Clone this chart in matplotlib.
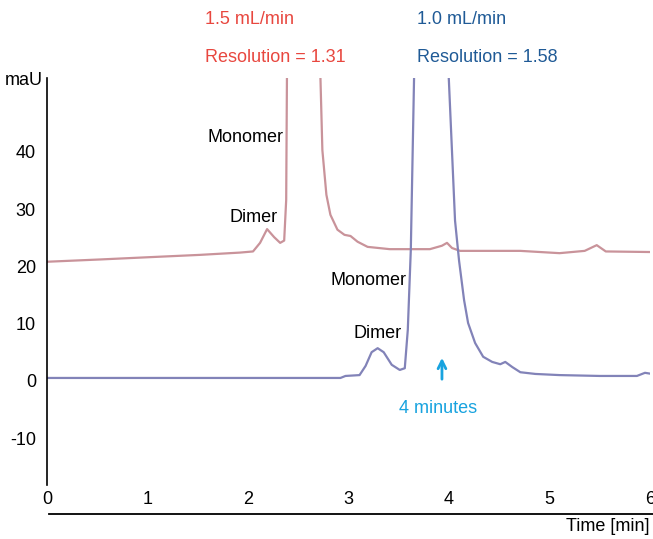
import numpy as np
import matplotlib
matplotlib.use("Agg")
import matplotlib.pyplot as plt

plt.rcParams['font.family'] = ['Liberation Sans', 'DejaVu Sans']
plt.rcParams['axes.unicode_minus'] = False

# chromatogram at 1.5 mL/min (time in min, signal in mAU)
t_fast = [0.0, 0.53, 1.02, 1.52, 1.92, 2.05, 2.12, 2.19, 2.26, 2.32, 2.36, 2.38, 2.39,
          2.71, 2.74, 2.78, 2.82, 2.89, 2.96, 3.02, 3.09, 3.19, 3.41, 3.81, 3.93, 3.98,
          4.03, 4.11, 4.71, 5.10, 5.35, 5.47, 5.56, 6.0]
v_fast = [20.8, 21.2, 21.6, 22.0, 22.4, 22.6, 24.1, 26.5, 25.1, 24.1, 24.5, 31.6, 60.0,
          60.0, 40.3, 32.5, 29.0, 26.4, 25.5, 25.3, 24.3, 23.4, 23.0, 23.0, 23.6, 24.1,
          23.2, 22.7, 22.7, 22.3, 22.7, 23.7, 22.6, 22.5]

# chromatogram at 1.0 mL/min
t_slow = [0.0, 2.92, 2.97, 3.11, 3.17, 3.23, 3.29, 3.35, 3.43, 3.51, 3.56, 3.59, 3.62,
          3.66, 3.98, 4.06, 4.10, 4.15, 4.19, 4.26, 4.34, 4.43, 4.51, 4.56, 4.63, 4.71,
          4.86, 5.10, 5.50, 5.87, 5.95, 6.02]
v_slow = [0.5, 0.5, 0.85, 1.0, 2.6, 5.0, 5.7, 5.0, 2.8, 1.9, 2.2, 8.9, 22.9,
          60.0, 60.0, 28.0, 21.0, 14.1, 10.1, 6.6, 4.2, 3.3, 2.9, 3.3, 2.4, 1.5,
          1.2, 1.0, 0.85, 0.85, 1.4, 1.2]

xticks = [0, 1, 2, 3, 4, 5, 6]
yticks = [-10, 0, 10, 20, 30, 40]

red_txt = '#e8473f'
blue_txt = '#1f5a96'
cyan_txt = '#18a3df'
fs = 13

fig = plt.figure(figsize=(6.53, 5.39), dpi=100)
ax = fig.add_axes([47/653, 54/539, 603/653, 407/539])

ax.plot(t_fast, v_fast, color='#c9939a', lw=1.6)
ax.plot(t_slow, v_slow, color='#8283b8', lw=1.6)

ax.set_xlim(0, 6)
ax.set_ylim(-18.2, 52.9)
ax.set_xticks(xticks)
ax.set_yticks(yticks)
ax.tick_params(length=0, labelsize=fs)
ax.tick_params(axis='x', pad=4)
ax.tick_params(axis='y', pad=8)
for s in ['top', 'right', 'bottom']:
    ax.spines[s].set_visible(False)
ax.spines['left'].set_linewidth(1.2)

# separate time axis line under the tick labels
ax.plot([0.003, 1.005], [-0.0713, -0.0713], transform=ax.transAxes,
        clip_on=False, color='black', lw=1.3)
ax.text(1.0, -0.103, 'Time [min]', transform=ax.transAxes, ha='right', va='center', fontsize=fs)
ax.text(-0.007, 0.995, 'maU', transform=ax.transAxes, ha='right', va='center', fontsize=fs)

# peak labels
ax.text(2.35, 42.5, 'Monomer', ha='right', va='center', fontsize=fs)
ax.text(2.29, 28.5, 'Dimer', ha='right', va='center', fontsize=fs)
ax.text(3.58, 17.5, 'Monomer', ha='right', va='center', fontsize=fs)
ax.text(3.53, 8.3, 'Dimer', ha='right', va='center', fontsize=fs)

# arrow at 4 minutes
ax.annotate('', xy=(3.93, 4.5), xytext=(3.93, -0.2),
            arrowprops=dict(arrowstyle='->', color=cyan_txt, lw=2, mutation_scale=14))
ax.text(3.89, -4.8, '4 minutes', ha='center', va='center', fontsize=fs, color=cyan_txt)

fig.text(205/653, 1 - 19/539, '1.5 mL/min', color=red_txt, fontsize=fs, va='center')
fig.text(205/653, 1 - 58/539, 'Resolution = 1.31', color=red_txt, fontsize=fs, va='center')
fig.text(417/653, 1 - 19/539, '1.0 mL/min', color=blue_txt, fontsize=fs, va='center')
fig.text(417/653, 1 - 58/539, 'Resolution = 1.58', color=blue_txt, fontsize=fs, va='center')

fig.savefig('out.png', dpi=100)
